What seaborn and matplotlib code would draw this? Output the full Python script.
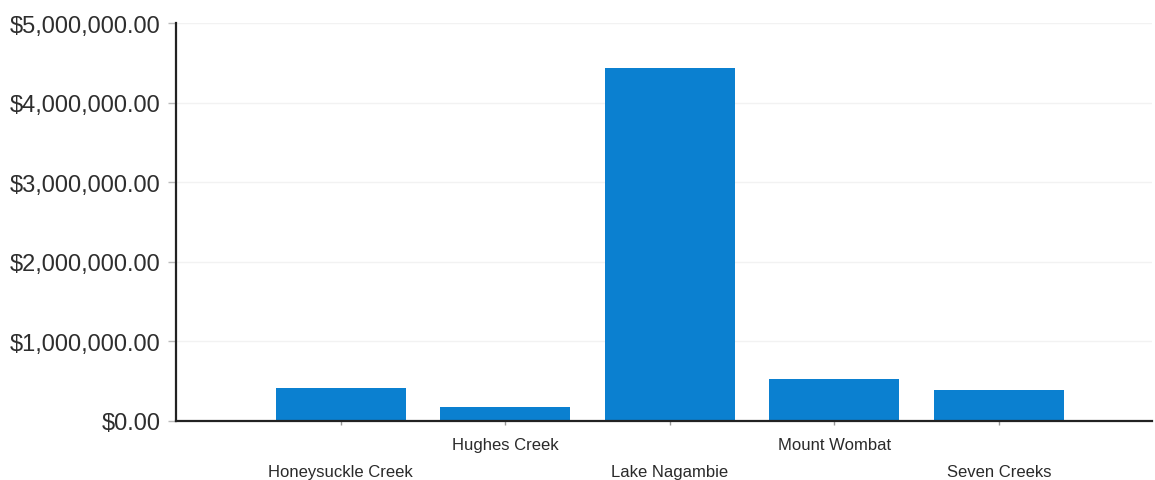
import matplotlib
matplotlib.use("Agg")
import matplotlib.pyplot as plt
from matplotlib.ticker import FuncFormatter
import seaborn as sns
import pandas as pd

# Funding by site
sites = ["Honeysuckle Creek", "Hughes Creek", "Lake Nagambie", "Mount Wombat", "Seven Creeks"]
amounts = [420000, 180000, 4435000, 528000, 395000]
y_ticks = [0, 1000000, 2000000, 3000000, 4000000, 5000000]

df = pd.DataFrame({"site": sites, "amount": amounts})

sns.set_theme(style="white")
plt.rcParams["font.family"] = ["Liberation Sans", "DejaVu Sans"]

fig = plt.figure(figsize=(11.55, 4.81), dpi=100)
ax = fig.add_axes([0.1524, 0.1227, 0.845, 0.8274])

sns.barplot(data=df, x="site", y="amount", color="#0b80d0", width=0.79,
            saturation=1, linewidth=0, ax=ax)

ax.set_xlim(-1, 4.93)
ax.set_ylim(0, 5000000)
ax.set_yticks(y_ticks)
ax.yaxis.set_major_formatter(FuncFormatter(lambda v, _: f"${v:,.2f}"))
ax.set_xlabel("")
ax.set_ylabel("")

ax.grid(axis="y", color="#f2f2f2", linewidth=1)
ax.set_axisbelow(True)

for side in ["top", "right"]:
    ax.spines[side].set_visible(False)
for side in ["left", "bottom"]:
    ax.spines[side].set_color("#222222")
    ax.spines[side].set_linewidth(1.6)

ax.tick_params(axis="y", length=6, width=1, color="#bbbbbb", pad=5,
               labelsize=17, labelcolor="#2e2e2e", left=True)
ax.tick_params(axis="x", length=3, width=1, color="#999999",
               labelsize=12, labelcolor="#2a2a2a", bottom=True)

# staggered category labels
for i, tick in enumerate(ax.xaxis.get_major_ticks()):
    tick.set_pad(8.5 if i % 2 == 1 else 28)

fig.savefig("out.png", dpi=100)
